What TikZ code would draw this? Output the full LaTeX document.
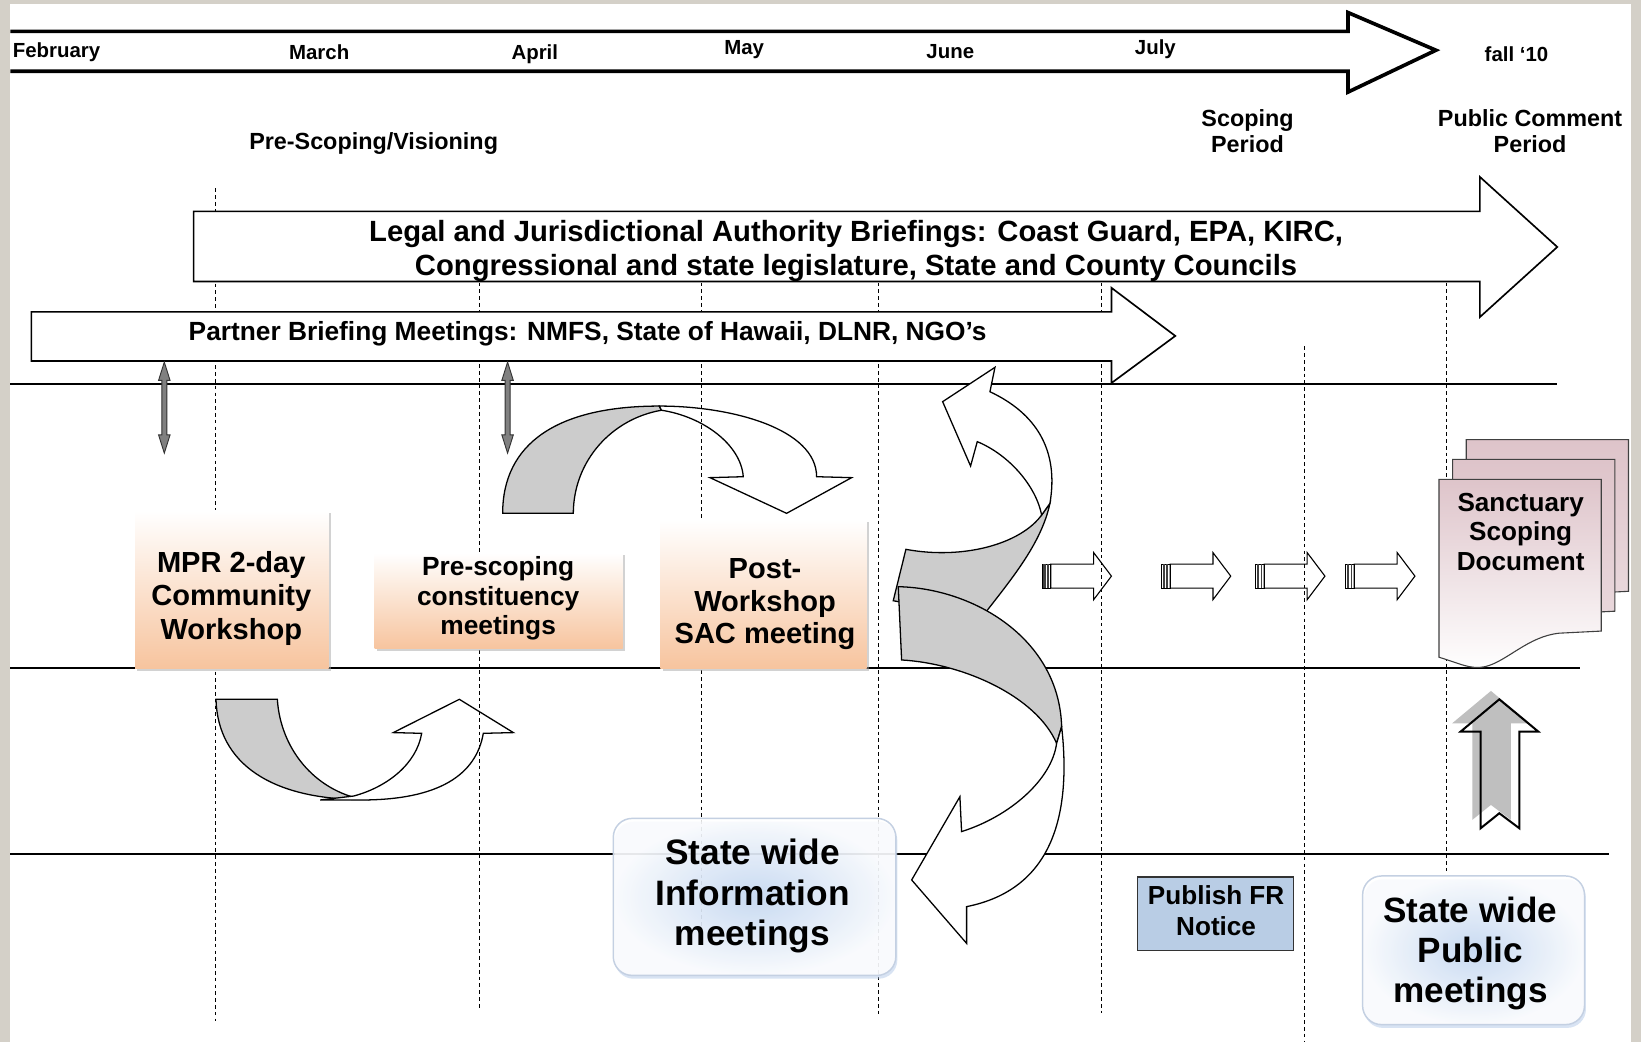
\documentclass[tikz,border=0pt]{standalone}
\usepackage{fontspec}
\setmainfont{Liberation Sans}
\usetikzlibrary{shadows}

\definecolor{bggray}{RGB}{212,208,200}
\definecolor{peach}{RGB}{247,196,158}
\definecolor{docpink}{RGB}{222,196,202}
\definecolor{fnblue}{RGB}{185,205,229}
\definecolor{glowblue}{RGB}{198,217,242}
\definecolor{edgeblue}{RGB}{196,208,226}
\definecolor{shadowblue}{RGB}{178,200,232}
\definecolor{bandgray}{RGB}{204,204,204}

\begin{document}
\begin{tikzpicture}[x=0.2mm,y=-0.2mm,line join=miter,
  month/.style={inner sep=0pt,yshift=-0.5mm,font=\fontsize{11.1}{13}\selectfont\bfseries},
  phase/.style={inner sep=0pt,yshift=-0.5mm,align=center,font=\fontsize{12.7}{14.2}\selectfont\bfseries},
  blockarrow/.style={draw=black,fill=white,line width=0.9pt},
  rule/.style={line width=1.2pt},
  monthline/.style={dash pattern=on 2pt off 1.7pt,line width=0.5pt},
  band/.style={draw=black,fill=white,line width=0.7pt},
  grayband/.style={draw=black,fill=bandgray,line width=0.7pt},
  orangebox/.style={inner sep=0pt,top color=white,bottom color=peach,
    drop shadow={shadow xshift=1.2pt,shadow yshift=-1.2pt,fill=black!35}},
  infobox/.style={inner sep=0pt,rounded corners=3.6mm,draw=edgeblue,line width=0.8pt,
    inner color=glowblue,outer color=white,fill opacity=0.85,
    drop shadow={shadow xshift=0.8pt,shadow yshift=-1.8pt,fill=shadowblue}},
  publish/.style={inner sep=0pt,draw=black!80,fill=fnblue,line width=0.8pt},
  boxtext/.style={inner sep=0pt,yshift=-0.55mm,align=center}]

\useasboundingbox (0,0) rectangle (1568,996);
\fill[bggray] (0,0) rectangle (1568,996);
\fill[white] (10,4) rectangle (1558,996);

% time line
\draw[line width=2pt] (10,30) -- (1288,30) -- (1288,12) -- (1372,48) -- (1288,88) -- (1288,68) -- (10,68);

% lanes
\draw[rule] (10,367) -- (1488,367);
\draw[rule] (10,638) -- (1510,638);
\draw[rule] (10,816) -- (1537,816);

% curved arrows
\draw[grayband] (480.3,490.5) .. controls (480.3,423.7) and (532.5,388) .. (630,388) -- (632,392)
  .. controls (585,400) and (548,440) .. (547.8,490.5) -- cycle;
\draw[band] (630,388) .. controls (700,388) and (780,410) .. (780.3,455.5) -- (813.7,456.4)
  -- (751.6,490.5) -- (678.4,456.4) -- (710.2,455.5) .. controls (708,425) and (672,398) .. (632,392) -- cycle;

\draw[grayband] (206.4,668.2) -- (265,668.2) .. controls (268,715) and (300,755) .. (347,764)
  .. controls (260,764) and (208,730) .. (206.4,668.2) -- cycle;
\draw[band] (306,764.4) -- (345,764.4) .. controls (420,764.4) and (455,740) .. (461.8,700.7)
  -- (490.5,700) -- (438.9,668.2) -- (375.8,700) -- (402.9,700.7)
  .. controls (398,730) and (370,752) .. (338,760.6) -- cycle;

\draw[grayband] (1003.2,481) .. controls (995,520) and (965,555) .. (938,590) -- (853.5,574)
  -- (865.6,524.9) .. controls (920,535) and (975,520) .. (995.3,492.1) -- cycle;
\draw[grayband] (858.3,560.6) .. controls (930,562) and (1012,610) .. (1014.4,694.3) -- (1009.6,710.3)
  .. controls (990,665) and (920,634) .. (861.5,630.6) -- cycle;
\draw[band] (1014.4,694.3) .. controls (1024,780) and (1005,850) .. (923.6,866.3) -- (923.6,901.4)
  -- (871.1,840.8) -- (917.2,761.2) -- (918.8,794.6) .. controls (965,780) and (1005,745) .. (1009.6,710.3) -- cycle;
\draw[band] (945.9,374.3) .. controls (990,395) and (1012,430) .. (1003.2,481) -- (995.3,492.1)
  .. controls (990,465) and (965,435) .. (933.8,422) -- (927.4,445.3) -- (900.7,383.8) -- (950.7,351) -- cycle;

% small arrows
\foreach \l in {996,1110,1200,1286} {
  \draw[line width=0.6pt,fill=white] (\l+8,539) -- (\l+49,539) -- (\l+49,528) -- (\l+66,550.5)
    -- (\l+49,573) -- (\l+49,562) -- (\l+8,562) -- cycle;
  \draw[line width=0.5pt] (\l,539) rectangle (\l+8,562);
  \fill[black!75] (\l+1,539) rectangle (\l+3,562);
  \fill[black!75] (\l+4.5,539) rectangle (\l+6,562);
}

% up arrow
\fill[black!25,shift={(-8,-8)}] (1432.6,668.2) -- (1469.9,699.1) -- (1451.7,699.1) -- (1451.7,791.4)
  -- (1432.6,777.1) -- (1414.8,791.4) -- (1414.8,699.1) -- (1395.6,699.1) -- cycle;
\draw[line width=1.1pt] (1432.6,668.2) -- (1469.9,699.1) -- (1451.7,699.1) -- (1451.7,791.4)
  -- (1432.6,777.1) -- (1414.8,791.4) -- (1414.8,699.1) -- (1395.6,699.1) -- cycle;

% month lines
\draw[monthline] (206,180) -- (206,976);
\draw[monthline] (458,270) -- (458,965);
\draw[monthline] (670,270) -- (670,900);
\draw[monthline] (839,270) -- (839,970);
\draw[monthline] (1052,270) -- (1052,968);
\draw[monthline] (1246,331) -- (1246,996);
\draw[monthline] (1382,270) -- (1382,834);

% briefings
\draw[blockarrow] (185,202) -- (1414,202) -- (1414,169) -- (1488,236) -- (1414,303) -- (1414,269) -- (185,269) -- cycle;
\draw[blockarrow] (30,298) -- (1062,298) -- (1062,275) -- (1123,321) -- (1062,366) -- (1062,345) -- (30,345) -- cycle;

% meetings
\node[orangebox,minimum width=37mm,minimum height=30.2mm] (mprbox) at (221.5,563.5) {};
\node[orangebox,minimum width=47.4mm,minimum height=18.4mm] (prebox) at (476.5,574) {};
\node[orangebox,minimum width=39.4mm,minimum height=28.4mm] (postbox) at (729.5,568) {};

\foreach \dx/\dy in {26/-38,13/-19} {
  \shadedraw[shift={(\dx,\dy)},top color=docpink,bottom color=docpink!60,draw=black!75,line width=0.6pt]
    (1375,458) -- (1530,458) -- (1530,603) -- (1490,605) .. controls (1460,608) and (1440,632) .. (1419,637)
    .. controls (1405,640) and (1395,634) .. (1375,628) -- cycle;
}
\shadedraw[top color=docpink,bottom color=white,draw=black!75,line width=0.6pt]
  (1375,458) -- (1530,458) -- (1530,603) -- (1490,605) .. controls (1460,608) and (1440,632) .. (1419,637)
  .. controls (1405,640) and (1395,634) .. (1375,628) -- cycle;

\node[infobox,minimum width=54mm,minimum height=30mm] (infobox) at (721,857) {};
\node[infobox,minimum width=42.4mm,minimum height=28.4mm] (pubbox) at (1408,908) {};
\node[publish,minimum width=29.8mm,minimum height=14mm] (frbox) at (1161.5,873) {};

% partner arrows
\foreach \c in {157,485} {
  \draw[fill=black!50,draw=black!80,line width=0.5pt] (\c,346) -- (\c+5.5,363.5) -- (\c+2.4,363.5) -- (\c+2.4,415.5)
    -- (\c+5.5,415.5) -- (\c,433) -- (\c-5.5,415.5) -- (\c-2.4,415.5) -- (\c-2.4,363.5) -- (\c-5.5,363.5) -- cycle;
}

% texts
\node[month,anchor=west] (feb) at (12,47) {February};
\node[month] (mar) at (305,47) {March};
\node[month] (apr) at (511,49) {April};
\node[month] (may) at (711,45) {May};
\node[month] (jun) at (908,47) {June};
\node[month] (jul) at (1104,45) {July};
\node[month] (fall) at (1449,49) {fall ‘10};

\node[phase] (visioning) at (357,135) {Pre-Scoping/Visioning};
\node[phase] (scoping) at (1192,122.5) {Scoping\\Period};
\node[phase] (comment) at (1462,122.5) {Public Comment\\Period};

\node[boxtext,font=\fontsize{15.9}{18.2}\selectfont\bfseries] (legal) at (818,237)
  {Legal and Jurisdictional Authority Briefings: Coast Guard, EPA, KIRC,\\Congressional and state legislature, State and County Councils};
\node[boxtext,font=\fontsize{14.3}{16}\selectfont\bfseries] (partner) at (561.5,316)
  {Partner Briefing Meetings: NMFS, State of Hawaii, DLNR, NGO’s};

\node[boxtext,font=\fontsize{15.8}{18.2}\selectfont\bfseries] (mpr) at (221,569) {MPR 2-day\\Community\\Workshop};
\node[boxtext,font=\fontsize{14.3}{15.9}\selectfont\bfseries] (pre) at (476,569) {Pre-scoping\\constituency\\meetings};
\node[boxtext,font=\fontsize{15.8}{17.9}\selectfont\bfseries] (post) at (731,574.5) {Post-\\Workshop\\SAC meeting};
\node[boxtext,font=\fontsize{14.2}{16.2}\selectfont\bfseries] (doc) at (1453,505.5) {Sanctuary\\Scoping\\Document};
\node[boxtext,font=\fontsize{19.2}{21.9}\selectfont\bfseries] (info) at (719,853.5) {State wide\\Information\\meetings};
\node[boxtext,font=\fontsize{19.1}{21.9}\selectfont\bfseries] (public) at (1405,908.5) {State wide\\Public\\meetings};
\node[boxtext,font=\fontsize{14.2}{16.5}\selectfont\bfseries] (fr) at (1162,867.5) {Publish FR\\Notice};
\end{tikzpicture}
\end{document}
